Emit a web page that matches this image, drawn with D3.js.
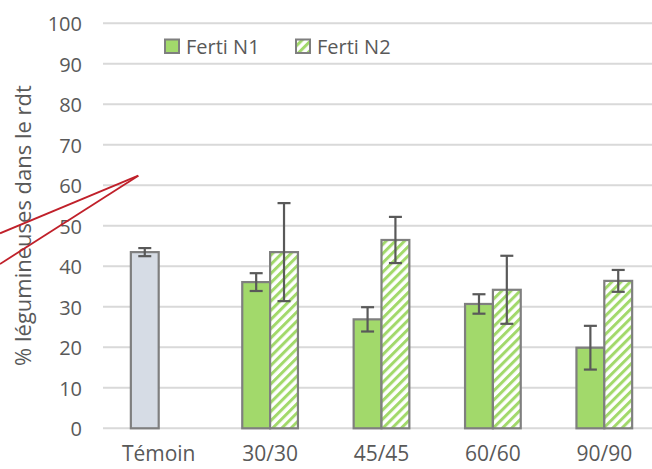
<!DOCTYPE html>
<html><head><meta charset="utf-8">
<script src="https://cdn.jsdelivr.net/npm/d3@7/dist/d3.min.js"></script>
<style>body{margin:0;background:#fff}svg{display:block}text{font-family:"Open Sans",sans-serif;fill:#595959}</style>
</head><body>
<svg id="c" width="652" height="469"></svg>
<script>
const categories = ["Témoin","30/30","45/45","60/60","90/90"];
const seriesNames = ["Ferti N1","Ferti N2"];
const n1Values = [43.5, 36.1, 26.9, 30.7, 19.9];
const n1Errors = [1.0, 2.2, 3.0, 2.4, 5.4];
const n2Values = [null, 43.5, 46.5, 34.2, 36.4];
const n2Errors = [null, 12.1, 5.7, 8.4, 2.7];
const yTicks = [0,10,20,30,40,50,60,70,80,90,100];

const svg = d3.select("#c");
const grey = "#7f7f7f", green = "#a2d96b", txt = "#595959";
const defs = svg.append("defs");
const pat = defs.append("pattern").attr("id","hatch").attr("patternUnits","userSpaceOnUse")
  .attr("width",6.5).attr("height",6.5).attr("patternTransform","rotate(45)");
pat.append("rect").attr("width",6.5).attr("height",6.5).attr("fill","#fff");
pat.append("rect").attr("width",3).attr("height",6.5).attr("fill",green);

const y = d3.scaleLinear().domain([0,100]).range([428.3,23.3]);
const x0 = d3.scaleBand().domain(categories).range([103,660]).paddingInner(0.5).paddingOuter(0.25);
const x1 = d3.scaleBand().domain(seriesNames).range([0,x0.bandwidth()]);

// gridlines
svg.append("g").selectAll("line").data(yTicks).join("line")
  .attr("x1",103).attr("x2",660).attr("y1",d=>y(d)).attr("y2",d=>y(d))
  .attr("stroke","#d9d9d9").attr("stroke-width",2);

// y axis labels
const yAxis = d3.axisLeft(y).tickValues(yTicks).tickSize(0).tickPadding(0);
const ya = svg.append("g").attr("transform","translate(82,0)").call(yAxis);
ya.select(".domain").remove();
ya.selectAll("text").style("font-size","20px").attr("fill",txt).attr("dy","0.36em");

// x axis labels
const xAxis = d3.axisBottom(x0).tickSize(0).tickPadding(0);
const xa = svg.append("g").attr("transform","translate(0,445.5)").call(xAxis);
xa.select(".domain").remove();
xa.selectAll("text").style("font-size","21px").attr("fill",txt).attr("dy","0.72em");

// bars
const rows = [];
categories.forEach((c,i)=>{
  rows.push({c, s:"Ferti N1", v:n1Values[i], e:n1Errors[i], fill: i===0 ? "#d6dce5" : green});
  if(n2Values[i]!=null) rows.push({c, s:"Ferti N2", v:n2Values[i], e:n2Errors[i], fill:"url(#hatch)"});
});
const bars = svg.append("g");
bars.selectAll("rect").data(rows).join("rect")
  .attr("x",d=>x0(d.c)+x1(d.s)).attr("width",x1.bandwidth())
  .attr("y",d=>y(d.v)).attr("height",d=>y(0)-y(d.v))
  .attr("fill",d=>d.fill).attr("stroke",grey).attr("stroke-width",2.2);

// error bars
const eb = svg.append("g").attr("stroke","#595959").attr("stroke-width",2.2);
rows.forEach(d=>{
  const cx = x0(d.c)+x1(d.s)+x1.bandwidth()/2;
  eb.append("line").attr("x1",cx).attr("x2",cx).attr("y1",y(d.v+d.e)).attr("y2",y(d.v-d.e));
  [d.v+d.e, d.v-d.e].forEach(v=>eb.append("line").attr("x1",cx-6.5).attr("x2",cx+6.5).attr("y1",y(v)).attr("y2",y(v)));
});

// legend
const lg = svg.append("g");
const legX = [165, 296];
seriesNames.forEach((s,i)=>{
  lg.append("rect").attr("x",legX[i]).attr("y",39.5).attr("width",14).attr("height",13.5)
    .attr("fill", i===0 ? green : "url(#hatch)").attr("stroke",grey).attr("stroke-width",2);
  lg.append("text").attr("x",legX[i]+21).attr("y",53.5).style("font-size","20px").attr("fill",txt).text(s);
});

// y title
svg.append("text").attr("transform","translate(31,225.5) rotate(-90)").attr("text-anchor","middle")
  .style("font-size","22px").attr("fill",txt).text("% légumineuses dans le rdt");

// red annotation lines
const red = svg.append("g").attr("stroke","#c0202a").attr("stroke-width",1.8).attr("fill","none");
red.append("line").attr("x1",138.3).attr("y1",175.7).attr("x2",0).attr("y2",233.3);
red.append("line").attr("x1",138.3).attr("y1",175.7).attr("x2",0).attr("y2",264);
</script>
</body></html>
